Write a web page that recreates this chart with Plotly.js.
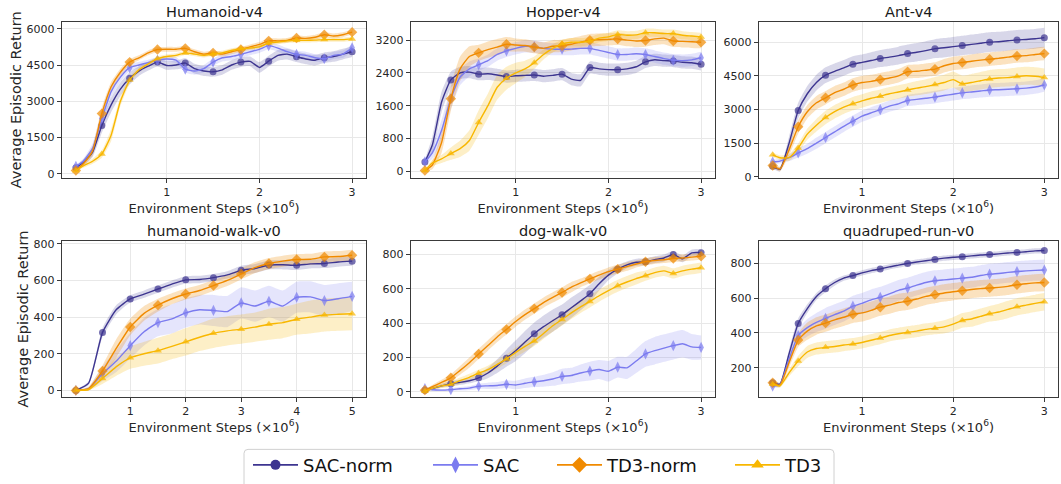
<!DOCTYPE html>
<html><head><meta charset="utf-8">
<script src="https://cdn.plot.ly/plotly-3.0.1.min.js"></script>
<style>html,body{margin:0;padding:0;background:#fff}#chart{width:1061px;height:484px}</style>
</head><body><div id="chart"></div>
<script>
// ---------- series metadata ----------
const seriesNames = ['SAC-norm', 'SAC', 'TD3-norm', 'TD3'];
const envTitles = ['Humanoid-v4', 'Hopper-v4', 'Ant-v4', 'humanoid-walk-v0', 'dog-walk-v0', 'quadruped-run-v0'];

// environment steps (x10^6)
const steps3M = [0.02,0.1,0.2,0.3,0.4,0.5,0.6,0.7,0.8,0.9,1.0,1.1,1.2,1.3,1.4,1.5,1.6,1.7,1.8,1.9,2.0,2.1,2.2,2.3,2.4,2.5,2.6,2.7,2.8,2.9,3.0];
const steps5M = [0.02,0.25,0.5,0.75,1.0,1.25,1.5,1.75,2.0,2.25,2.5,2.75,3.0,3.25,3.5,3.75,4.0,4.25,4.5,4.75,5.0];

// tick labels
const xTicks3M = [1, 2, 3];
const xTicks5M = [1, 2, 3, 4, 5];
const yTicksHumanoid = [0, 1500, 3000, 4500, 6000];
const yTicksHopper = [0, 800, 1600, 2400, 3200];
const yTicksAnt = [0, 1500, 3000, 4500, 6000];
const yTicksHWalk = [0, 200, 400, 600, 800];
const yTicksDog = [0, 200, 400, 600, 800];
const yTicksQuad = [200, 400, 600, 800];

// ---------- Humanoid-v4 ----------
const humanoid_sacNorm = [250,480,900,2000,2850,3500,3950,4250,4450,4620,4480,4500,4580,4350,4250,4220,4300,4500,4620,4650,4400,4660,4900,4950,4840,4750,4700,4800,4850,4950,5050];
const humanoid_sac = [310,520,1050,2290,3400,4000,4390,4500,4600,4700,4750,4700,4330,4250,4350,4620,4800,4850,4940,5050,5150,5300,5200,5050,4940,4900,4800,4760,4900,4950,5210];
const humanoid_td3Norm = [140,420,950,2490,3600,4200,4620,4800,5000,5140,5150,5150,5190,5050,4950,5000,4950,5050,5140,5250,5350,5500,5500,5520,5620,5600,5650,5750,5700,5750,5860];
const humanoid_td3 = [130,330,520,820,1600,3000,3880,4300,4550,4760,4850,4900,5000,4950,4900,4960,5000,5100,5170,5200,5250,5410,5450,5500,5520,5520,5530,5550,5550,5550,5580];
const humanoid_sacNorm_std = [80,120,200,300,300,280,250,200,180,180,180,180,200,200,200,200,200,200,200,200,220,220,220,220,220,220,220,220,220,220,220];
const humanoid_sac_std = [60,100,200,300,250,200,150,130,120,120,120,130,140,150,150,150,150,150,150,150,150,150,150,150,150,150,150,150,150,150,150];
const humanoid_td3Norm_std = [40,100,200,250,200,150,120,100,100,100,100,100,100,100,100,100,100,100,100,100,100,100,100,100,100,100,100,100,100,100,100];
const humanoid_td3_std = [40,80,100,150,250,200,150,100,90,90,90,90,90,90,90,90,90,90,90,90,90,90,90,90,90,90,90,90,90,90,90];

// ---------- Hopper-v4 ----------
const hopper_sacNorm = [225,640,1690,2230,2400,2420,2370,2380,2350,2310,2330,2340,2350,2320,2340,2370,2250,2220,2530,2500,2480,2480,2500,2550,2670,2720,2700,2690,2660,2650,2610];
const hopper_sac = [230,450,1000,1770,2300,2500,2600,2700,2850,2940,3000,3050,3040,3000,2980,2980,2980,3000,3000,2950,2900,2850,2850,2870,2850,2800,2750,2710,2700,2720,2770];
const hopper_td3Norm = [16,150,700,1770,2500,2800,2890,2970,3030,3100,3080,3070,3030,3000,3050,3060,3100,3150,3200,3210,3220,3230,3200,3180,3190,3230,3250,3180,3170,3160,3150];
const hopper_td3 = [16,200,300,430,550,750,1190,1600,2050,2270,2400,2500,2650,2850,3000,3110,3150,3150,3180,3250,3280,3340,3320,3330,3380,3380,3360,3360,3320,3300,3280];
const hopper_sacNorm_std = [60,200,250,200,150,150,150,150,150,150,150,150,150,150,150,150,150,150,150,150,150,150,150,150,150,150,150,150,150,150,150];
const hopper_sac_std = [60,150,250,250,200,180,150,150,150,150,150,150,150,150,150,150,150,150,150,150,150,150,150,150,150,150,150,150,150,150,150];
const hopper_td3Norm_std = [10,100,250,300,300,250,200,200,200,180,160,150,150,150,150,150,150,150,150,150,150,150,150,150,150,150,150,150,150,150,150];
const hopper_td3_std = [10,80,100,150,200,250,300,300,300,280,250,200,150,120,100,100,100,100,100,100,100,100,100,100,100,100,100,100,100,100,100];

// ---------- Ant-v4 ----------
const ant_sacNorm = [470,330,1500,2950,3700,4200,4530,4700,4850,5020,5100,5180,5270,5330,5400,5490,5550,5620,5710,5750,5800,5850,5900,5950,6000,6020,6060,6100,6120,6150,6200];
const ant_sac = [660,700,850,1060,1250,1500,1750,2000,2250,2480,2700,2850,2990,3150,3250,3400,3450,3500,3550,3620,3680,3740,3780,3820,3870,3880,3900,3920,3950,4000,4090];
const ant_td3Norm = [500,350,1200,2230,2900,3300,3520,3750,3900,4090,4200,4250,4330,4400,4500,4680,4700,4750,4800,4950,5050,5090,5150,5200,5240,5280,5330,5380,5400,5450,5490];
const ant_td3 = [980,850,850,1280,1900,2300,2640,2900,3100,3260,3380,3500,3590,3700,3780,3870,3950,4020,4110,4200,4330,4140,4200,4280,4360,4400,4420,4470,4500,4480,4430];
const ant_sacNorm_std = [100,100,300,350,350,350,350,350,350,350,350,370,380,390,400,400,410,420,420,430,430,430,440,440,440,440,440,440,440,440,440];
const ant_sac_std = [100,100,150,200,220,250,250,250,250,250,250,250,250,250,250,250,260,270,280,280,280,280,290,290,300,300,300,300,300,300,300];
const ant_td3Norm_std = [100,100,250,300,300,300,300,300,300,300,300,300,300,300,300,300,300,300,300,300,300,300,300,300,300,300,300,300,300,300,300];
const ant_td3_std = [100,100,150,200,250,280,300,300,300,300,300,300,300,300,300,300,320,330,340,350,360,370,380,390,400,400,400,400,400,400,400];

// ---------- humanoid-walk-v0 ----------
const hwalk_sacNorm = [0,40,316,441,499,525,553,580,603,605,615,630,655,665,684,685,682,690,692,700,705];
const hwalk_sac = [0,10,91,160,244,320,370,390,423,440,436,430,477,460,486,460,508,510,490,500,513];
const hwalk_td3Norm = [0,10,106,230,346,420,465,500,526,545,572,600,635,670,692,705,714,715,728,730,737];
const hwalk_td3 = [0,5,65,130,178,200,217,240,265,290,312,325,334,345,361,370,388,400,411,415,418];
const hwalk_sacNorm_std = [2,10,25,25,20,20,20,20,20,20,20,20,25,25,25,25,25,25,25,25,25];
const hwalk_sac_std = [2,10,40,60,70,75,75,80,80,80,85,85,85,85,85,85,85,85,85,85,80];
const hwalk_td3Norm_std = [2,10,30,50,45,40,35,30,30,30,30,30,30,30,30,30,30,30,30,30,30];
const hwalk_td3_std = [2,5,30,50,60,65,70,70,75,75,80,80,80,80,85,85,85,90,90,90,90];

// ---------- dog-walk-v0 ----------
const dog_sacNorm = [10,20,35,48,55,65,82,110,150,196,240,290,339,380,415,449,490,530,572,630,680,715,740,755,758,770,780,800,775,810,811];
const dog_sac = [19,12,10,13,18,22,33,35,37,44,40,50,58,65,75,90,95,110,121,130,120,144,140,180,221,240,255,269,280,262,259];
const dog_td3Norm = [10,30,55,82,125,170,221,270,320,364,410,450,485,520,550,579,610,635,658,680,700,715,730,745,758,765,770,777,780,785,790];
const dog_td3 = [4,20,35,44,65,85,109,130,160,192,230,265,297,340,385,422,460,495,527,560,590,618,640,660,677,695,705,690,705,715,723];
const dog_sacNorm_std = [5,10,10,15,15,15,20,30,40,50,60,65,65,65,65,60,60,55,50,40,30,25,20,20,20,20,20,20,20,20,20];
const dog_sac_std = [5,5,5,8,10,12,15,18,20,22,25,28,30,35,40,45,45,50,55,55,60,60,65,70,75,80,80,80,80,75,70];
const dog_td3Norm_std = [5,10,15,20,25,30,30,30,30,30,30,30,30,30,30,30,30,25,25,25,25,25,25,20,20,20,20,20,20,20,20];
const dog_td3_std = [5,10,12,15,18,20,20,22,25,25,28,30,30,32,35,35,35,35,35,35,35,35,35,35,30,30,30,30,30,30,30];

// ---------- quadruped-run-v0 ----------
const quad_sacNorm = [113,105,280,454,540,610,654,690,715,730,745,758,768,780,790,800,808,815,823,830,835,838,843,848,851,855,860,863,867,872,874];
const quad_sac = [94,100,250,384,430,460,484,505,525,554,570,590,605,625,645,658,675,690,700,705,710,715,720,730,738,742,748,753,757,760,762];
const quad_td3Norm = [113,100,230,359,410,440,456,475,490,507,515,530,548,560,575,582,595,610,620,630,637,643,650,655,658,662,668,677,683,688,690];
const quad_td3 = [105,95,170,238,290,310,317,322,330,336,345,358,370,385,395,403,410,420,427,435,450,472,480,495,510,520,535,550,560,570,579];
const quad_sacNorm_std = [10,10,25,30,25,20,20,18,15,15,15,15,15,15,15,15,15,15,15,15,15,15,15,15,15,15,15,15,15,15,15];
const quad_sac_std = [10,10,30,40,50,55,60,60,60,60,60,60,60,60,60,60,60,60,60,60,60,60,60,60,60,60,60,60,60,60,60];
const quad_td3Norm_std = [10,10,30,40,50,50,50,50,50,50,50,50,50,50,50,50,50,50,50,50,50,50,50,50,50,50,50,50,50,50,50];
const quad_td3_std = [10,10,20,30,35,35,35,35,35,35,35,35,35,35,35,35,35,35,35,38,40,42,45,45,45,48,50,50,50,50,50];

// ---------- styles ----------
const lineColors = ['#3d3590', '#7b7bef', '#f08a00', '#f8b700'];
const bandColors = ['rgba(61,53,144,0.2)', 'rgba(123,123,239,0.2)', 'rgba(240,138,0,0.25)', 'rgba(248,183,0,0.22)'];
const symbols = ['circle', 'diamond-tall', 'diamond', 'triangle-up'];
const markerSizes = [7, 8, 8, 7];
const legendMarkerSizes = [10, 12, 12, 11];

const panels = [
  {x: steps3M, every: 3, means: [humanoid_sacNorm, humanoid_sac, humanoid_td3Norm, humanoid_td3], stds: [humanoid_sacNorm_std, humanoid_sac_std, humanoid_td3Norm_std, humanoid_td3_std], xticks: xTicks3M, yticks: yTicksHumanoid, xr: [-0.13, 3.15], yr: [-163, 6290]},
  {x: steps3M, every: 3, means: [hopper_sacNorm, hopper_sac, hopper_td3Norm, hopper_td3], stds: [hopper_sacNorm_std, hopper_sac_std, hopper_td3Norm_std, hopper_td3_std], xticks: xTicks3M, yticks: yTicksHopper, xr: [-0.13, 3.15], yr: [-160, 3650]},
  {x: steps3M, every: 3, means: [ant_sacNorm, ant_sac, ant_td3Norm, ant_td3], stds: [ant_sacNorm_std, ant_sac_std, ant_td3Norm_std, ant_td3_std], xticks: xTicks3M, yticks: yTicksAnt, xr: [-0.13, 3.15], yr: [-44, 6910]},
  {x: steps5M, every: 2, means: [hwalk_sacNorm, hwalk_sac, hwalk_td3Norm, hwalk_td3], stds: [hwalk_sacNorm_std, hwalk_sac_std, hwalk_td3Norm_std, hwalk_td3_std], xticks: xTicks5M, yticks: yTicksHWalk, xr: [-0.23, 5.25], yr: [-36, 815]},
  {x: steps3M, every: 3, means: [dog_sacNorm, dog_sac, dog_td3Norm, dog_td3], stds: [dog_sacNorm_std, dog_sac_std, dog_td3Norm_std, dog_td3_std], xticks: xTicks3M, yticks: yTicksDog, xr: [-0.13, 3.15], yr: [-30, 879]},
  {x: steps3M, every: 3, means: [quad_sacNorm, quad_sac, quad_td3Norm, quad_td3], stds: [quad_sacNorm_std, quad_sac_std, quad_td3Norm_std, quad_td3_std], xticks: xTicks3M, yticks: yTicksQuad, xr: [-0.13, 3.15], yr: [31, 929]}
];

const W = 1061, H = 484;
const colDom = [[62/W, 366/W], [411/W, 715/W], [759/W, 1058/W]];
const rowDom = [[1 - 180/H, 1 - 22/H], [1 - 402/H, 1 - 244/H]];
const FONT = 'DejaVu Sans, Arial, sans-serif';

const traces = [];
const layout = {
  width: W, height: H,
  margin: {l: 0, r: 0, t: 0, b: 0},
  paper_bgcolor: '#ffffff', plot_bgcolor: '#ffffff',
  font: {family: FONT, size: 11, color: '#262626'},
  showlegend: true,
  annotations: [], shapes: []
};

panels.forEach((p, pi) => {
  const suf = pi === 0 ? '' : String(pi + 1);
  const col = pi % 3, row = Math.floor(pi / 3);
  const xa = 'x' + suf, ya = 'y' + suf;
  // bands
  p.means.forEach((m, si) => {
    const s = p.stds[si];
    traces.push({x: p.x, y: m.map((v, i) => v - s[i]), xaxis: xa, yaxis: ya, mode: 'lines',
      line: {width: 0, shape: 'spline', smoothing: 0.5}, hoverinfo: 'skip', showlegend: false});
    traces.push({x: p.x, y: m.map((v, i) => v + s[i]), xaxis: xa, yaxis: ya, mode: 'lines', fill: 'tonexty',
      fillcolor: bandColors[si], line: {width: 0, shape: 'spline', smoothing: 0.5}, hoverinfo: 'skip', showlegend: false});
  });
  // mean lines with markers
  p.means.forEach((m, si) => {
    traces.push({x: p.x, y: m, xaxis: xa, yaxis: ya, mode: 'lines+markers', name: seriesNames[si], showlegend: false,
      line: {color: lineColors[si], width: 1.4, shape: 'spline', smoothing: 0.5},
      marker: {symbol: symbols[si], color: lineColors[si], size: m.map((v, i) => (i % p.every === 0 ? markerSizes[si] : 0)), line: {width: 0}}});
  });
  const axisCommon = {showline: true, mirror: true, linecolor: '#3a3a3a', linewidth: 1.2,
    showgrid: true, gridcolor: '#e8e8e8', gridwidth: 1, zeroline: false,
    ticks: 'outside', ticklen: 4, tickwidth: 1, tickcolor: '#3a3a3a',
    tickfont: {family: FONT, size: 11, color: '#262626'}, fixedrange: true};
  layout['xaxis' + suf] = Object.assign({}, axisCommon, {domain: colDom[col], anchor: ya, range: p.xr,
    tickmode: 'array', tickvals: p.xticks, ticktext: p.xticks.map(String),
    title: {text: 'Environment Steps (\u00d710<sup>6</sup>)', font: {family: FONT, size: 13, color: '#262626'}, standoff: 4}});
  layout['yaxis' + suf] = Object.assign({}, axisCommon, {domain: rowDom[row], anchor: xa, range: p.yr,
    tickmode: 'array', tickvals: p.yticks, ticktext: p.yticks.map(String)});
  if (col === 0) {
    layout['yaxis' + suf].title = {text: 'Average Episodic Return', font: {family: FONT, size: 14.5, color: '#262626'}, standoff: 1};
  }
  layout.annotations.push({text: envTitles[pi], xref: 'paper', yref: 'paper',
    x: (colDom[col][0] + colDom[col][1]) / 2, y: row === 0 ? 1 - 12/H : 1 - 234/H,
    xanchor: 'center', yanchor: 'middle', showarrow: false, font: {family: FONT, size: 14.5, color: '#1a1a1a'}});
});

// legend entries (one legend per entry so spacing matches)
const legendX = [248, 428, 552, 730];
seriesNames.forEach((nm, si) => {
  const lg = si === 0 ? 'legend' : 'legend' + (si + 1);
  traces.push({x: [null], y: [null], mode: 'lines+markers', name: nm, legend: lg, showlegend: true,
    line: {color: lineColors[si], width: 1.6}, marker: {symbol: symbols[si], color: lineColors[si], size: legendMarkerSizes[si]}});
  layout[lg] = {x: legendX[si] / W, xanchor: 'left', y: 1 - 471/H, yanchor: 'middle', orientation: 'h',
    itemwidth: 45, bgcolor: 'rgba(0,0,0,0)', borderwidth: 0, font: {family: FONT, size: 18, color: '#111111'}};
});

// legend frame (rounded, bottom edge falls outside the figure)
(function () {
  const x0 = 244/W, x1 = 834/W, yt = 1 - 455/H, yb = -0.05, rx = 4/W, ry = 4/H;
  layout.shapes.push({type: 'path', xref: 'paper', yref: 'paper', layer: 'below',
    path: `M ${x0},${yb} L ${x0},${yt - ry} Q ${x0},${yt} ${x0 + rx},${yt} L ${x1 - rx},${yt} Q ${x1},${yt} ${x1},${yt - ry} L ${x1},${yb}`,
    line: {color: '#d0d0d0', width: 1}});
})();

Plotly.newPlot('chart', traces, layout, {displayModeBar: false, staticPlot: true});
</script>
</body></html>
